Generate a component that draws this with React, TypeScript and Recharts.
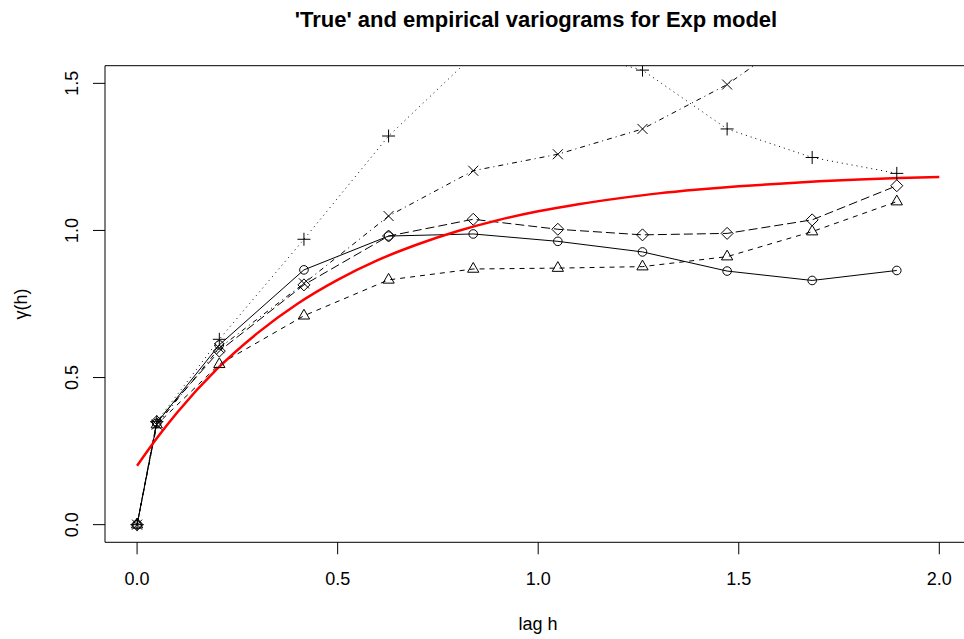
import { ComposedChart, Line, XAxis, YAxis, ReferenceArea } from "recharts";

// lag bins (same for every empirical variogram)
const lags = [0, 0.049, 0.205, 0.416, 0.627, 0.838, 1.049, 1.26, 1.471, 1.683, 1.894];

// empirical variograms, one per simulation
const circleVals = [0, 0.345, 0.611, 0.866, 0.981, 0.988, 0.963, 0.927, 0.862, 0.83, 0.864];
const triangleVals = [0, 0.34, 0.545, 0.71, 0.832, 0.869, 0.872, 0.877, 0.911, 0.996, 1.098];
const diamondVals = [0, 0.35, 0.59, 0.815, 0.981, 1.038, 1.004, 0.985, 0.99, 1.036, 1.152];
const crossVals = [0, 0.34, 0.6, 0.82, 1.049, 1.203, 1.259, 1.345, 1.496, 1.7, 1.85];
const plusVals = [0, 0.35, 0.63, 0.97, 1.321, 1.595, 1.62, 1.545, 1.345, 1.248, 1.194];

// 'true' Exp model curve
const modelLags = [0, 0.05, 0.1, 0.2, 0.3, 0.4, 0.5, 0.6, 0.7, 0.8, 0.9, 1.0, 1.1, 1.2, 1.3, 1.4, 1.5, 1.6, 1.7, 1.8, 1.9, 2.0];
const modelVals = [0.2, 0.295, 0.381, 0.53, 0.651, 0.751, 0.832, 0.899, 0.953, 0.998, 1.035, 1.065, 1.089, 1.109, 1.126, 1.139, 1.15, 1.159, 1.167, 1.173, 1.178, 1.182];

const xTicks = [0, 0.5, 1, 1.5, 2];
const yTicks = [0, 0.5, 1, 1.5];

const FONT = "'Liberation Sans', Arial, sans-serif";

const toRows = (xs: number[], ys: number[]) => xs.map((h, i) => ({ h, g: ys[i] }));

type DotProps = { cx?: number; cy?: number; index?: number };

const CircleDot = ({ cx, cy, index }: DotProps) => (
  <circle key={`c${index}`} cx={cx} cy={cy} r={4.3} fill="none" stroke="#000" strokeWidth={1} />
);

const TriangleDot = ({ cx = 0, cy = 0, index }: DotProps) => {
  const r = 6.5;
  const pts = `${cx},${cy - r} ${cx + r * 0.866},${cy + r / 2} ${cx - r * 0.866},${cy + r / 2}`;
  return <polygon key={`t${index}`} points={pts} fill="none" stroke="#000" strokeWidth={1} />;
};

const DiamondDot = ({ cx = 0, cy = 0, index }: DotProps) => {
  const r = 6;
  const pts = `${cx},${cy - r} ${cx + r},${cy} ${cx},${cy + r} ${cx - r},${cy}`;
  return <polygon key={`d${index}`} points={pts} fill="none" stroke="#000" strokeWidth={1} />;
};

const CrossDot = ({ cx = 0, cy = 0, index }: DotProps) => {
  const r = 5;
  return (
    <path
      key={`x${index}`}
      d={`M${cx - r},${cy - r}L${cx + r},${cy + r}M${cx - r},${cy + r}L${cx + r},${cy - r}`}
      stroke="#000"
      strokeWidth={1}
    />
  );
};

const PlusDot = ({ cx = 0, cy = 0, index }: DotProps) => {
  const r = 6.5;
  return (
    <path
      key={`p${index}`}
      d={`M${cx - r},${cy}L${cx + r},${cy}M${cx},${cy - r}L${cx},${cy + r}`}
      stroke="#000"
      strokeWidth={1}
    />
  );
};

function XTick({ x, y, payload }: any) { // eslint-disable-line @typescript-eslint/no-explicit-any
  return (
    <text x={x} y={y + 29} textAnchor="middle" fontSize={18} fontFamily={FONT} fill="#000">
      {Number(payload.value).toFixed(1)}
    </text>
  );
}

function YTick({ y, payload }: any) { // eslint-disable-line @typescript-eslint/no-explicit-any
  return (
    <text
      x={78}
      y={y}
      transform={`rotate(-90, 78, ${y})`}
      textAnchor="middle"
      fontSize={18}
      fontFamily={FONT}
      fill="#000"
    >
      {Number(payload.value).toFixed(1)}
    </text>
  );
}

export default function App() {
  const series = [
    { vals: circleVals, dash: undefined, dot: CircleDot },
    { vals: triangleVals, dash: "5 5", dot: TriangleDot },
    { vals: diamondVals, dash: "9 4", dot: DiamondDot },
    { vals: crossVals, dash: "1 4 5 4", dot: CrossDot },
    { vals: plusVals, dash: "1 4", dot: PlusDot },
  ];

  return (
    <div style={{ position: "fixed", left: 0, top: 0, width: 964, height: 639, overflow: "hidden", background: "#fff" }}>
      <ComposedChart
        width={1000}
        height={639}
        margin={{ top: 65.7, right: 28.6, bottom: 36.7, left: 45 }}
      >
        <XAxis
          type="number"
          dataKey="h"
          domain={[-0.08, 2.08]}
          ticks={xTicks}
          allowDataOverflow
          height={60}
          axisLine={false}
          tickLine={{ stroke: "#000" }}
          tickSize={12}
          tick={<XTick />}
        />
        <YAxis
          type="number"
          dataKey="g"
          domain={[-0.06, 1.56]}
          ticks={yTicks}
          allowDataOverflow
          width={60}
          axisLine={false}
          tickLine={{ stroke: "#000" }}
          tickSize={12}
          tick={<YTick />}
        />
        <ReferenceArea
          x1={-0.08}
          x2={2.08}
          y1={-0.06}
          y2={1.56}
          fill="none"
          fillOpacity={0}
          stroke="#000"
          strokeWidth={1}
          strokeOpacity={1}
          ifOverflow="visible"
        />
        {series.map((s, i) => (
          <Line
            key={i}
            data={toRows(lags, s.vals)}
            dataKey="g"
            type="linear"
            stroke="#000"
            strokeWidth={1}
            strokeDasharray={s.dash}
            dot={s.dot}
            activeDot={false}
            isAnimationActive={false}
          />
        ))}
        <Line
          data={toRows(modelLags, modelVals)}
          dataKey="g"
          type="monotone"
          stroke="#ff0000"
          strokeWidth={2.5}
          dot={false}
          activeDot={false}
          isAnimationActive={false}
        />
      </ComposedChart>
      <svg width={964} height={639} style={{ position: "absolute", left: 0, top: 0, pointerEvents: "none" }}>
        <text x={536} y={27} textAnchor="middle" fontSize={22} fontWeight="bold" fontFamily={FONT} fill="#000">
          'True' and empirical variograms for Exp model
        </text>
        <text x={538} y={630} textAnchor="middle" fontSize={18} fontFamily={FONT} fill="#000">
          lag h
        </text>
        <text
          x={27}
          y={304}
          transform="rotate(-90, 27, 304)"
          textAnchor="middle"
          fontSize={18}
          fontFamily={FONT}
          fill="#000"
        >
          γ(h)
        </text>
      </svg>
    </div>
  );
}
